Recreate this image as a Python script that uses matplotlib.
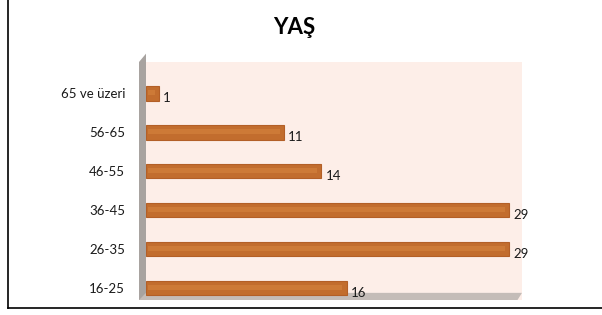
import matplotlib
matplotlib.use("Agg")
import matplotlib.pyplot as plt
from matplotlib.patches import Polygon
from matplotlib.lines import Line2D

plt.rcParams['font.family'] = ['Lato', 'DejaVu Sans']

groups = ["16-25", "26-35", "36-45", "46-55", "56-65", "65 ve üzeri"]
counts = [16, 29, 29, 14, 11, 1]

fig = plt.figure(figsize=(6.02, 3.15), dpi=100)
ax = fig.add_axes([146/602, 15/315, 376/602, 238/315])
ax.set_facecolor('#fdeee8')

ypos = list(range(len(groups)))
bars = ax.barh(ypos, counts, height=0.38, color='#c26d2e', edgecolor='#b35f27', linewidth=0.8, zorder=3)
# softer lighter band in the middle of each bar
ax.barh([y + 0.02 for y in ypos], [c - 0.45 if c > 1 else c * 0.6 for c in counts], left=0.12,
        height=0.13, color='#cd7a37', linewidth=0, zorder=4)

for y, c in zip(ypos, counts):
    ax.text(c + 0.35, y - 0.12, str(c), va='center', ha='left', fontsize=9.5, color='#1a1a1a')

ax.set_xlim(0, 30)
ax.set_ylim(-0.31, 5.8)
ax.set_yticks(ypos)
ax.set_yticklabels(groups, fontsize=9.5, color='#1a1a1a')
ax.tick_params(axis='y', length=0, pad=15)
ax.set_xticks([])
for s in ax.spines.values():
    s.set_visible(False)

# 3D-like wall on the left and floor at bottom
wall = Polygon([(-7/376, 0), (-7/376, 1.0), (0, 1.035), (0, 0)], closed=True,
               transform=ax.transAxes, facecolor='#a8a3a0', edgecolor='none', clip_on=False)
ax.add_patch(wall)
floor = Polygon([(-7/376, 0), (1.0 - 0.012, 0), (1.0, 0.03), (0, 0.03)], closed=True,
                transform=ax.transAxes, facecolor='#c4bcb8', edgecolor='none', clip_on=False, zorder=2)
ax.add_patch(floor)

fig.text(294/602, 1 - 28/315, "YAŞ", ha='center', va='center', fontsize=16, fontweight='bold')

# outer frame lines
fig.add_artist(Line2D([8/602, 8/602], [1, 1 - 308/315], color='black', lw=1.2))
fig.add_artist(Line2D([8/602, 1], [1 - 308/315, 1 - 308/315], color='black', lw=1.2))

fig.savefig("out.png", dpi=100)
